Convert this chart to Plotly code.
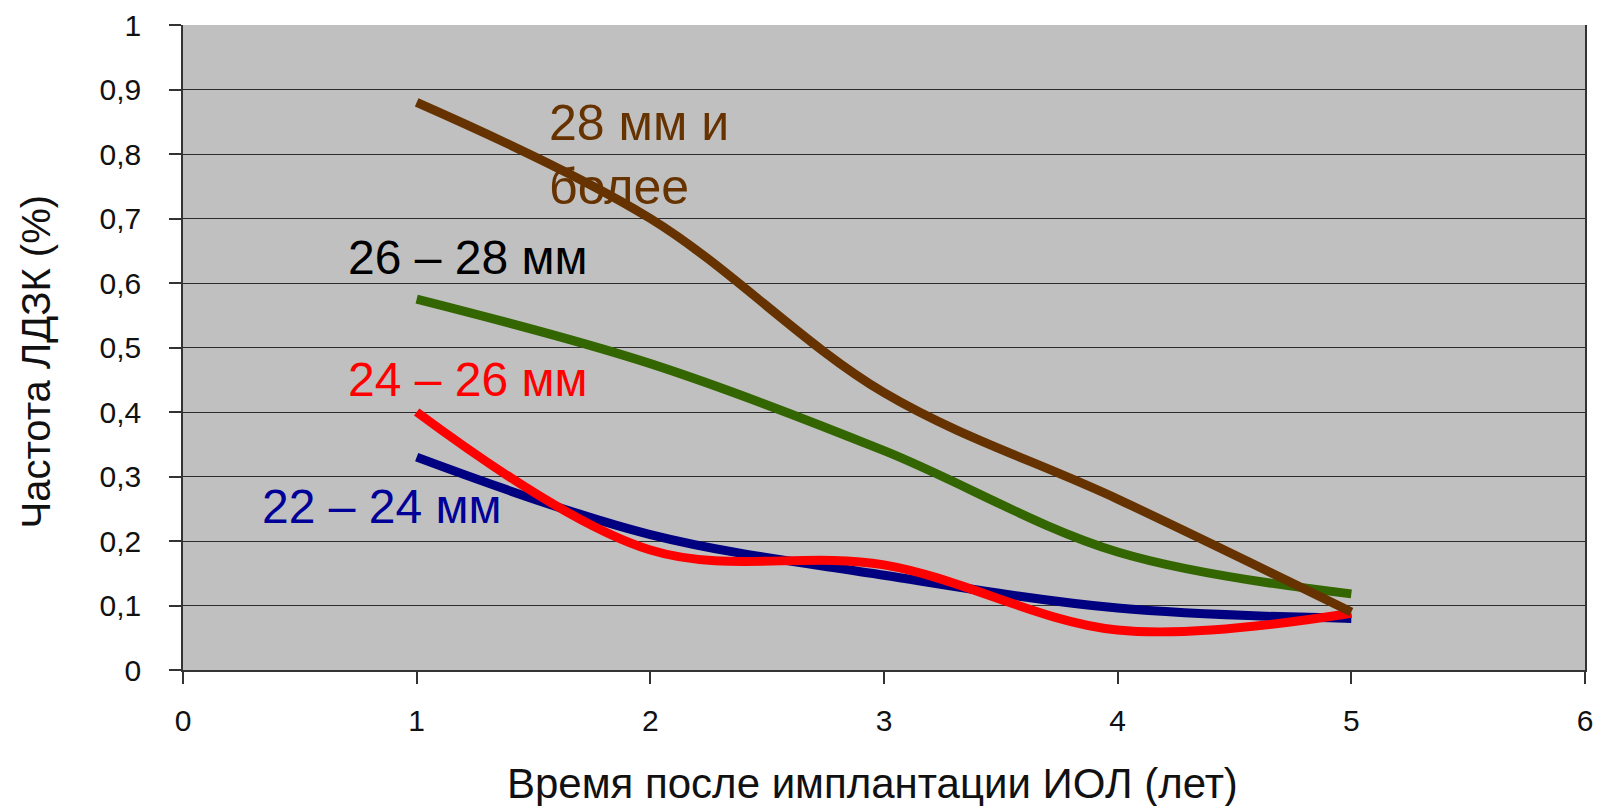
import plotly.graph_objects as go

# Years after IOL implantation
years = [1, 2, 3, 4, 5]

# Frequency of the complication by axial length group (%)
freq_22_24 = [0.33, 0.21, 0.147, 0.096, 0.08]
freq_24_26 = [0.40, 0.186, 0.163, 0.062, 0.088]
freq_26_28 = [0.575, 0.475, 0.34, 0.183, 0.118]
freq_28_plus = [0.88, 0.70, 0.43, 0.265, 0.09]

series_names = ["22 – 24 мм", "24 – 26 мм", "26 – 28 мм", "28 мм и более"]
series_colors = ["#000080", "#FF0000", "#336600", "#663300"]
series_values = [freq_22_24, freq_24_26, freq_26_28, freq_28_plus]

x_ticks = [0, 1, 2, 3, 4, 5, 6]
y_ticks = [0, 0.1, 0.2, 0.3, 0.4, 0.5, 0.6, 0.7, 0.8, 0.9, 1]

fig = go.Figure()
for name, color, vals in zip(series_names, series_colors, series_values):
    fig.add_trace(go.Scatter(
        x=years, y=vals, name=name, mode="lines",
        line=dict(color=color, width=9, shape="spline", smoothing=1.0),
    ))

label_font = "Liberation Sans, Arial, sans-serif"
tick_font = dict(family=label_font, size=30, color="#111111")

# In-plot series labels
fig.add_annotation(x=1.556, y=0.848, text="28 мм и", showarrow=False,
                   xanchor="left", yanchor="middle",
                   font=dict(family=label_font, size=50, color="#663300"))
fig.add_annotation(x=1.556, y=0.749, text="более", showarrow=False,
                   xanchor="left", yanchor="middle",
                   font=dict(family=label_font, size=50, color="#663300"))
fig.add_annotation(x=0.697, y=0.639, text="26 – 28 мм", showarrow=False,
                   xanchor="left", yanchor="middle",
                   font=dict(family=label_font, size=48, color="#000000"))
fig.add_annotation(x=0.697, y=0.451, text="24 – 26 мм", showarrow=False,
                   xanchor="left", yanchor="middle",
                   font=dict(family=label_font, size=48, color="#FF0000"))
fig.add_annotation(x=0.328, y=0.253, text="22 – 24 мм", showarrow=False,
                   xanchor="left", yanchor="middle",
                   font=dict(family=label_font, size=48, color="#000099"))

# Axis titles
fig.add_annotation(xref="paper", yref="paper", x=0.492, y=-0.1767,
                   text="Время после имплантации ИОЛ (лет)", showarrow=False,
                   xanchor="center", yanchor="middle",
                   font=dict(family=label_font, size=42, color="#111111"))
fig.add_annotation(xref="paper", yref="paper", x=-0.105, y=0.478,
                   text="Частота ЛДЗК (%)", showarrow=False, textangle=-90,
                   xanchor="center", yanchor="middle",
                   font=dict(family=label_font, size=40, color="#111111"))

fig.update_layout(
    width=1597, height=806,
    margin=dict(l=183, r=12, t=25, b=136),
    paper_bgcolor="white",
    plot_bgcolor="#C0C0C0",
    showlegend=False,
    separators=", ",
    xaxis=dict(
        range=[0, 6], tickvals=x_ticks, ticks="outside", ticklen=12,
        tickcolor="#333333", tickwidth=1.5, showgrid=False, zeroline=False,
        showline=True, linecolor="#333333", linewidth=1.5, mirror=False,
        tickfont=tick_font, ticklabelstandoff=11, automargin=False,
    ),
    yaxis=dict(
        range=[0, 1], tickvals=y_ticks, ticks="outside", ticklen=12,
        tickcolor="#333333", tickwidth=1.5, showgrid=True,
        gridcolor="#2b2b2b", gridwidth=1.2, zeroline=False,
        showline=True, linecolor="#333333", linewidth=1.5, mirror=True,
        tickfont=tick_font, ticklabelstandoff=22, automargin=False,
    ),
)

fig.write_html("out.html")
